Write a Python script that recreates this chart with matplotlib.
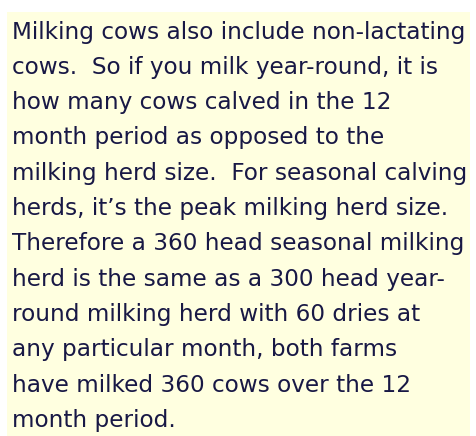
import matplotlib.pyplot as plt
from matplotlib.patches import Rectangle

lines = [
    "Milking cows also include non-lactating",
    "cows.  So if you milk year-round, it is",
    "how many cows calved in the 12",
    "month period as opposed to the",
    "milking herd size.  For seasonal calving",
    "herds, it\u2019s the peak milking herd size.",
    "Therefore a 360 head seasonal milking",
    "herd is the same as a 300 head year-",
    "round milking herd with 60 dries at",
    "any particular month, both farms",
    "have milked 360 cows over the 12",
    "month period.",
]

fig = plt.figure(figsize=(4.77, 4.36), dpi=100)
ax = fig.add_axes([0, 0, 1, 1])
ax.set_xlim(0, 477)
ax.set_ylim(436, 0)
ax.axis("off")

# pale yellow note box
ax.add_patch(Rectangle((7, 12), 463, 424, facecolor="#FFFFE0", edgecolor="none"))

y0 = 38.5
step = 35.3
for i, t in enumerate(lines):
    ax.text(12, y0 + i * step, t, fontsize=16.7, family="DejaVu Sans",
            color="#181845", va="baseline", ha="left")

fig.savefig("out.png", dpi=100)
